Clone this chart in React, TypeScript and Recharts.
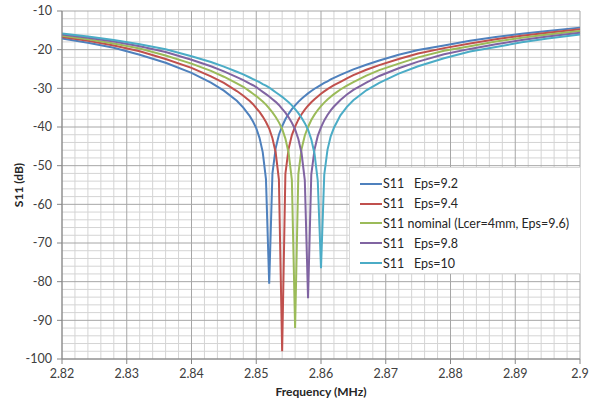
import { CartesianGrid, Legend, Line, LineChart, XAxis, YAxis } from "recharts";

// frequency grid (MHz), dense around the five resonances
const freq = [
  2.82, 2.824, 2.828, 2.832, 2.836, 2.84, 2.843, 2.845, 2.847, 2.848,
  2.849, 2.8495, 2.85, 2.8505, 2.851, 2.8515, 2.852, 2.8525, 2.853, 2.8535,
  2.854, 2.8545, 2.855, 2.8555, 2.856, 2.8565, 2.857, 2.8575, 2.858, 2.8585,
  2.859, 2.8595, 2.86, 2.8605, 2.861, 2.8615, 2.862, 2.863, 2.864, 2.865,
  2.867, 2.869, 2.872, 2.875, 2.879, 2.883, 2.887, 2.891, 2.895, 2.9,
];

// S11 (dB) per series
const eps92 = [
  -17.1, -18.2, -19.5, -21.3, -23.4, -26.0, -28.5, -30.6, -33.2, -35.0,
  -37.2, -38.6, -40.3, -42.8, -46.5, -53.5, -80.5, -52.0, -45.5, -42.0,
  -39.8, -38.0, -36.6, -35.4, -34.4, -33.5, -32.7, -32.0, -31.3, -30.7,
  -30.1, -29.6, -29.1, -28.6, -28.2, -27.7, -27.3, -26.5, -25.8, -25.1,
  -23.9, -22.8, -21.3, -20.1, -18.9, -17.7, -16.7, -15.9, -15.15, -14.3,
];
const eps94 = [
  -16.7, -17.7, -18.9, -20.4, -22.4, -24.7, -26.9, -28.6, -30.7, -31.9,
  -33.3, -34.1, -35.1, -36.1, -37.3, -38.7, -40.4, -42.9, -46.6, -53.6,
  -98.0, -52.1, -45.6, -42.1, -39.9, -38.1, -36.7, -35.5, -34.5, -33.6,
  -32.8, -32.1, -31.4, -30.8, -30.2, -29.7, -29.2, -28.3, -27.4, -26.6,
  -25.2, -24.0, -22.4, -21.0, -19.6, -18.4, -17.3, -16.4, -15.6, -14.7,
];
const eps96 = [
  -16.4, -17.3, -18.4, -19.7, -21.5, -23.6, -25.5, -27.0, -28.7, -29.6,
  -30.8, -31.4, -32.0, -32.7, -33.4, -34.2, -35.2, -36.2, -37.4, -38.8,
  -40.5, -43.0, -46.7, -53.7, -92.0, -52.2, -45.7, -42.2, -40.0, -38.2,
  -36.8, -35.6, -34.6, -33.7, -32.9, -32.2, -31.5, -30.3, -29.3, -28.4,
  -26.7, -25.3, -23.6, -22.0, -20.3, -19.1, -17.9, -16.9, -16.1, -15.2,
];
const eps98 = [
  -16.1, -16.9, -17.9, -19.1, -20.6, -22.6, -24.3, -25.6, -27.1, -27.9,
  -28.8, -29.2, -29.7, -30.3, -30.9, -31.5, -32.1, -32.8, -33.5, -34.3,
  -35.3, -36.3, -37.5, -38.9, -40.6, -43.1, -46.8, -53.8, -84.3, -52.3,
  -45.8, -42.3, -40.1, -38.3, -36.9, -35.7, -34.7, -33.0, -31.6, -30.4,
  -28.5, -26.8, -24.8, -23.1, -21.2, -19.8, -18.6, -17.5, -16.6, -15.6,
];
const eps100 = [
  -15.8, -16.6, -17.5, -18.6, -19.9, -21.7, -23.2, -24.4, -25.7, -26.4,
  -27.2, -27.6, -28.0, -28.4, -28.9, -29.3, -29.8, -30.4, -31.0, -31.6,
  -32.2, -32.9, -33.6, -34.4, -35.4, -36.4, -37.6, -39.0, -40.7, -43.2,
  -46.9, -53.9, -76.5, -52.4, -45.9, -42.4, -40.2, -37.0, -34.8, -33.1,
  -30.5, -28.6, -26.2, -24.3, -22.2, -20.5, -19.3, -18.1, -17.1, -16.1,
];

const xTicks = [2.82, 2.83, 2.84, 2.85, 2.86, 2.87, 2.88, 2.89, 2.9];
const yTicks = [-100, -90, -80, -70, -60, -50, -40, -30, -20, -10];

const series = [
  { key: "a", name: "S11   Eps=9.2", color: "#4f81bd" },
  { key: "b", name: "S11   Eps=9.4", color: "#c0504d" },
  { key: "c", name: "S11 nominal (Lcer=4mm, Eps=9.6)", color: "#9bbb59" },
  { key: "d", name: "S11   Eps=9.8", color: "#8064a2" },
  { key: "e", name: "S11   Eps=10", color: "#4bacc6" },
];

const rows = freq.map((f, i) => ({ f, a: eps92[i], b: eps94[i], c: eps96[i], d: eps98[i], e: eps100[i] }));

// minor grid: 5 divisions inside each major step
const subdivide = (t: number[]) => {
  const out: number[] = [];
  for (let i = 0; i < t.length - 1; i++) {
    for (let k = 1; k < 5; k++) out.push(t[i] + ((t[i + 1] - t[i]) * k) / 5);
  }
  return out;
};
const minorX = subdivide(xTicks);
const minorY = subdivide(yTicks);

const FONT = "Lato, 'Open Sans', sans-serif";
const tickStyle = { fontFamily: FONT, fontSize: 12.5, fill: "#404040" };

const YLabel = (props: any) => {
  const vb = props.viewBox || { y: 0, height: 0 };
  const cx = 18;
  const cy = vb.y + vb.height / 2;
  return (
    <text x={cx} y={cy} transform={`rotate(-90 ${cx} ${cy})`} textAnchor="middle" dominantBaseline="central"
      fontFamily={FONT} fontSize={12} fontWeight={700} fill="#262626">
      S11 (dB)
    </text>
  );
};

const LegendBox = () => (
  <div style={{ background: "#fff", border: "1px solid #d9d9d9", width: 232, height: 107, boxSizing: "border-box",
    padding: "6px 0 0 10px", fontFamily: FONT, fontSize: 12.5, color: "#262626" }}>
    {series.map((s) => (
      <div key={s.key} style={{ display: "flex", alignItems: "center", height: 19.8, whiteSpace: "pre" }}>
        <span style={{ display: "inline-block", width: 22, height: 2, background: s.color, marginRight: 1 }} />
        {s.name}
      </div>
    ))}
  </div>
);

export default function App() {
  return (
    <div style={{ position: "absolute", left: 0, top: 0, width: 590, height: 402, background: "#fff" }}>
      <LineChart width={590} height={402} data={rows} margin={{ top: 11, right: 10, bottom: 0, left: 0 }}>
        <CartesianGrid stroke="#d4d4d4" horizontalValues={minorY} verticalValues={minorX} />
        <CartesianGrid stroke="#a6a6a6" horizontalValues={yTicks} verticalValues={xTicks} />
        <XAxis dataKey="f" type="number" domain={[2.82, 2.9]} ticks={xTicks} interval={0} height={43}
          tick={tickStyle} tickSize={5} tickMargin={5} axisLine={{ stroke: "#868686" }} tickLine={{ stroke: "#868686" }}
          label={{ value: "Frequency (MHz)", position: "insideBottom", offset: 6, fontFamily: FONT, fontSize: 12, fontWeight: 700, fill: "#262626" }} />
        <YAxis type="number" domain={[-100, -10]} ticks={yTicks} interval={0} width={62}
          tick={tickStyle} tickSize={5} tickMargin={5} axisLine={{ stroke: "#868686" }} tickLine={{ stroke: "#868686" }}
          label={<YLabel />} />
        <Legend layout="horizontal" verticalAlign="middle" align="center" content={<LegendBox />}
          wrapperStyle={{ left: 349, top: 167, width: 232, height: 107 }} />
        {series.map((s) => (
          <Line key={s.key} dataKey={s.key} name={s.name} type="linear" stroke={s.color} strokeWidth={2}
            dot={false} activeDot={false} isAnimationActive={false} />
        ))}
      </LineChart>
    </div>
  );
}
